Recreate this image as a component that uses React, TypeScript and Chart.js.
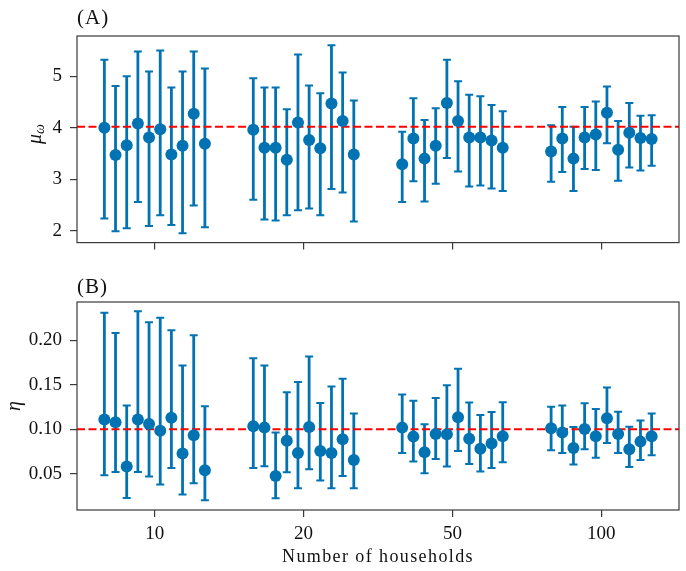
import React, { useEffect, useRef } from 'react';
import { Chart, registerables } from 'chart.js';
Chart.register(...registerables);

const CATEGORIES = ['10', '20', '50', '100'];

const MU_MEAN = [
  [4.0, 3.47, 3.66, 4.08, 3.81, 3.97, 3.48, 3.65, 4.27, 3.69],
  [3.96, 3.61, 3.61, 3.38, 4.1, 3.76, 3.6, 4.47, 4.13, 3.48],
  [3.29, 3.79, 3.4, 3.65, 4.48, 4.13, 3.81, 3.81, 3.75, 3.61],
  [3.54, 3.79, 3.4, 3.81, 3.87, 4.29, 3.57, 3.9, 3.8, 3.78],
];
const MU_HIGH = [
  [5.32, 4.81, 5.0, 5.48, 5.09, 5.5, 4.78, 5.09, 5.48, 5.15],
  [4.96, 4.78, 4.78, 4.36, 5.42, 4.82, 4.67, 5.6, 5.07, 4.53],
  [3.92, 4.57, 4.15, 4.38, 5.32, 4.9, 4.64, 4.61, 4.44, 4.32],
  [4.05, 4.4, 4.02, 4.4, 4.51, 4.8, 4.13, 4.48, 4.23, 4.24],
];
const MU_LOW = [
  [2.24, 1.99, 2.05, 2.56, 2.09, 2.3, 2.11, 1.95, 2.49, 2.07],
  [2.6, 2.22, 2.2, 2.3, 2.4, 2.43, 2.3, 2.81, 2.74, 2.18],
  [2.56, 2.96, 2.57, 2.91, 3.41, 3.15, 2.86, 2.88, 2.82, 2.77],
  [2.95, 3.14, 2.77, 3.2, 3.18, 3.7, 2.97, 3.23, 3.17, 3.26],
];
const ETA_MEAN = [
  [0.1109, 0.1078, 0.0582, 0.1109, 0.106, 0.0985, 0.113, 0.073, 0.0933, 0.054],
  [0.1034, 0.1019, 0.0477, 0.0873, 0.0735, 0.1026, 0.0757, 0.0735, 0.0888, 0.0656],
  [0.1019, 0.0918, 0.0742, 0.0947, 0.0944, 0.1135, 0.0895, 0.0783, 0.084, 0.0922],
  [0.1011, 0.0963, 0.079, 0.1003, 0.0922, 0.1123, 0.0947, 0.0776, 0.0862, 0.0922],
];
const ETA_HIGH = [
  [0.2308, 0.208, 0.1266, 0.2323, 0.22, 0.2252, 0.211, 0.1717, 0.2054, 0.1258],
  [0.1796, 0.1717, 0.0963, 0.1415, 0.153, 0.1818, 0.1295, 0.1479, 0.1568, 0.1176],
  [0.139, 0.132, 0.1056, 0.135, 0.1493, 0.168, 0.13, 0.116, 0.1194, 0.1303],
  [0.1254, 0.1266, 0.1026, 0.1292, 0.1228, 0.147, 0.1198, 0.103, 0.11, 0.1176],
];
const ETA_LOW = [
  [0.0484, 0.0521, 0.023, 0.052, 0.047, 0.038, 0.0566, 0.0268, 0.0395, 0.0204],
  [0.0566, 0.0585, 0.0226, 0.0518, 0.0339, 0.0551, 0.0425, 0.0339, 0.0477, 0.0339],
  [0.0735, 0.0638, 0.0507, 0.0667, 0.0582, 0.0757, 0.0611, 0.0526, 0.0566, 0.063],
  [0.0764, 0.0735, 0.0604, 0.0776, 0.0682, 0.0847, 0.0735, 0.0578, 0.0656, 0.0708],
];
const MU_REF = 4.02;
const ETA_REF = 0.1;
const MU_TICKS = [2, 3, 4, 5];
const ETA_TICKS = [0.05, 0.1, 0.15, 0.2];

const BLUE = '#0173B2';
const FRAME = '#3a3a3a';
const FONT = '"Liberation Serif", "DejaVu Serif", serif';
const JITTER = 0.075;

type PanelProps = {
  mean: number[][];
  low: number[][];
  high: number[][];
  refValue: number;
  yTicks: number[];
  yMin: number;
  yMax: number;
  decimals: number;
  label: string;
  yTitle: string;
  ySub?: string;
  height: number;
  padTop: number;
  xHeight: number;
  showXLabels: boolean;
  labelY: number;
  yTitleX: number;
  yTitleY: number;
};

function Panel(p: PanelProps) {
  const ref = useRef<HTMLCanvasElement>(null);
  useEffect(() => {
    const pts: any[] = [];
    p.mean.forEach((grp, g) =>
      grp.forEach((v, i) => {
        pts.push({ x: g + (i - 4.5) * JITTER, y: v, lo: p.low[g][i], hi: p.high[g][i] });
      })
    );
    const plugin = {
      id: 'decor',
      beforeDatasetsDraw(chart: any) {
        const ctx = chart.ctx;
        const xs = chart.scales.x;
        const ys = chart.scales.y;
        const ca = chart.chartArea;
        ctx.save();
        ctx.strokeStyle = BLUE;
        pts.forEach((pt) => {
          const x = xs.getPixelForValue(pt.x);
          const y1 = ys.getPixelForValue(pt.lo);
          const y2 = ys.getPixelForValue(pt.hi);
          ctx.lineWidth = 2.8;
          ctx.beginPath();
          ctx.moveTo(x, y1);
          ctx.lineTo(x, y2);
          ctx.stroke();
          ctx.lineWidth = 2;
          ctx.beginPath();
          ctx.moveTo(x - 4, y1);
          ctx.lineTo(x + 4, y1);
          ctx.moveTo(x - 4, y2);
          ctx.lineTo(x + 4, y2);
          ctx.stroke();
        });
        const ry = ys.getPixelForValue(p.refValue);
        ctx.strokeStyle = '#ff0000';
        ctx.lineWidth = 2;
        ctx.setLineDash([8, 3.5]);
        ctx.beginPath();
        ctx.moveTo(ca.left, ry);
        ctx.lineTo(ca.right, ry);
        ctx.stroke();
        ctx.restore();
      },
      afterDraw(chart: any) {
        const ctx = chart.ctx;
        const ca = chart.chartArea;
        ctx.save();
        ctx.strokeStyle = FRAME;
        ctx.lineWidth = 1.2;
        ctx.strokeRect(ca.left, ca.top, ca.right - ca.left, ca.bottom - ca.top);
        ctx.fillStyle = '#111';
        ctx.font = `21px ${FONT}`;
        (ctx as any).letterSpacing = '1px';
        ctx.textAlign = 'left';
        ctx.textBaseline = 'middle';
        ctx.fillText(p.label, ca.left, p.labelY);
        (ctx as any).letterSpacing = '0px';
        // y title
        ctx.translate(p.yTitleX, p.yTitleY);
        ctx.rotate(-Math.PI / 2);
        ctx.font = `italic 20px ${FONT}`;
        const w1 = ctx.measureText(p.yTitle).width;
        let w2 = 0;
        if (p.ySub) {
          ctx.font = `italic 14px ${FONT}`;
          w2 = ctx.measureText(p.ySub).width;
        }
        const start = -(w1 + w2) / 2;
        ctx.font = `italic 20px ${FONT}`;
        ctx.fillText(p.yTitle, start, 0);
        if (p.ySub) {
          ctx.font = `italic 14px ${FONT}`;
          ctx.fillText(p.ySub, start + w1, 4);
        }
        ctx.restore();
        if (p.showXLabels) {
          ctx.save();
          ctx.fillStyle = '#111';
          ctx.font = `18px ${FONT}`;
          (ctx as any).letterSpacing = '1.4px';
          ctx.textAlign = 'center';
          ctx.textBaseline = 'alphabetic';
          ctx.fillText('Number of households', (ca.left + ca.right) / 2, ca.bottom + 52);
          ctx.restore();
        }
      },
    };
    const chart = new Chart(ref.current as HTMLCanvasElement, {
      type: 'scatter',
      data: {
        datasets: [
          {
            data: pts,
            backgroundColor: BLUE,
            borderColor: BLUE,
            pointRadius: 6,
            pointBorderWidth: 0,
          },
        ],
      },
      options: {
        animation: false,
        responsive: false,
        maintainAspectRatio: false,
        layout: { padding: { top: p.padTop, right: 7, left: 0, bottom: 0 } },
        plugins: { legend: { display: false }, tooltip: { enabled: false }, title: { display: false } },
        scales: {
          x: {
            type: 'linear',
            min: -0.5213,
            max: 3.5213,
            afterBuildTicks: (s: any) => {
              s.ticks = CATEGORIES.map((_, i) => ({ value: i }));
            },
            afterFit: (s: any) => {
              s.height = p.xHeight;
            },
            ticks: {
              display: p.showXLabels,
              callback: (v: any) => CATEGORIES[Math.round(Number(v))] ?? '',
              font: { family: FONT, size: 19 },
              color: '#111',
              padding: 6,
              maxRotation: 0,
            },
            grid: { display: true, drawOnChartArea: false, drawTicks: true, tickLength: 7, color: FRAME, lineWidth: 1.2 },
            border: { display: false },
          },
          y: {
            type: 'linear',
            min: p.yMin,
            max: p.yMax,
            afterBuildTicks: (s: any) => {
              s.ticks = p.yTicks.map((v) => ({ value: v }));
            },
            afterFit: (s: any) => {
              s.width = 77;
            },
            ticks: {
              callback: (v: any) => Number(v).toFixed(p.decimals),
              font: { family: FONT, size: 19 },
              color: '#111',
              padding: 8,
            },
            grid: { display: true, drawOnChartArea: false, drawTicks: true, tickLength: 7, color: FRAME, lineWidth: 1.2 },
            border: { display: false },
          },
        },
      },
      plugins: [plugin],
    } as any);
    return () => chart.destroy();
  }, []);
  return <canvas ref={ref} width={686} height={p.height} style={{ display: 'block', width: 686, height: p.height }} />;
}

export default function App() {
  return (
    <div style={{ position: 'fixed', left: 0, top: 0, width: 686, height: 571, background: '#fff' }}>
      <Panel
        mean={MU_MEAN}
        low={MU_LOW}
        high={MU_HIGH}
        refValue={MU_REF}
        yTicks={MU_TICKS}
        yMin={1.77}
        yMax={5.78}
        decimals={0}
        label="(A)"
        yTitle="μ"
        ySub="ω"
        height={262}
        padTop={36}
        xHeight={19}
        showXLabels={false}
        labelY={18}
        yTitleX={36}
        yTitleY={134}
      />
      <Panel
        mean={ETA_MEAN}
        low={ETA_LOW}
        high={ETA_HIGH}
        refValue={ETA_REF}
        yTicks={ETA_TICKS}
        yMin={0.0095}
        yMax={0.2428}
        decimals={2}
        label="(B)"
        yTitle="η"
        height={309}
        padTop={40}
        xHeight={61}
        showXLabels={true}
        labelY={25}
        yTitleX={15}
        yTitleY={144}
      />
    </div>
  );
}
